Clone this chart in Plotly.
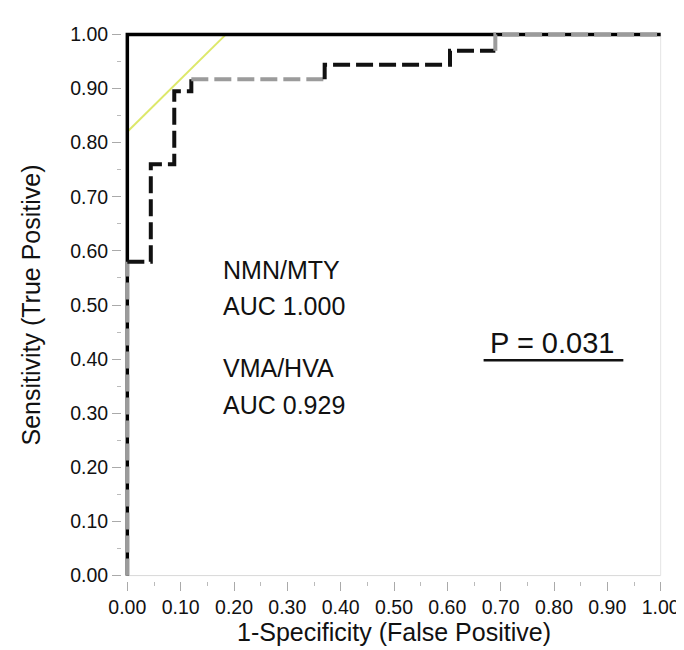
import plotly.graph_objects as go

# ---- data ----
nmn_fpr = [0.0, 0.0, 1.0]
nmn_tpr = [0.0, 1.0, 1.0]

vma_fpr = [0.0, 0.0, 0.044, 0.044, 0.088, 0.088, 0.12, 0.12, 0.37, 0.37, 0.605, 0.605, 0.69, 0.69, 1.0]
vma_tpr = [0.0, 0.58, 0.58, 0.76, 0.76, 0.895, 0.895, 0.917, 0.917, 0.944, 0.944, 0.97, 0.97, 1.0, 1.0]
# colour of each segment between consecutive points ("g" grey, "k" black)
vma_seg_colors = ["g", "k", "k", "k", "k", "k", "k", "g", "k", "k", "k", "k", "g", "g"]

tangent_x = [0.0, 0.185]
tangent_y = [0.82, 1.0]

tick_vals = [i / 10 for i in range(11)]
tick_text = ["%.2f" % v for v in tick_vals]

text_lines = ["NMN/MTY", "AUC 1.000", "VMA/HVA", "AUC 0.929"]
text_line_y = [0.565, 0.498, 0.383, 0.316]
p_label = "P = 0.031"

COLORS = {"g": "#9b9b9b", "k": "#111111"}
FONT = "Liberation Sans, Arial, sans-serif"

fig = go.Figure()

# yellow tangent line (behind)
fig.add_trace(go.Scatter(x=tangent_x, y=tangent_y, mode="lines",
                         line=dict(color="#dde86a", width=2), showlegend=False, hoverinfo="skip"))

# NMN/MTY solid curve
fig.add_trace(go.Scatter(x=nmn_fpr, y=nmn_tpr, mode="lines",
                         line=dict(color="#000000", width=3.5), showlegend=False))

# VMA/HVA dashed curve, grouped into runs of equal colour
runs = []
start = 0
for i in range(1, len(vma_seg_colors) + 1):
    if i == len(vma_seg_colors) or vma_seg_colors[i] != vma_seg_colors[start]:
        runs.append((start, i, vma_seg_colors[start]))
        start = i
for a, b, c in runs:
    fig.add_trace(go.Scatter(x=vma_fpr[a:b + 1], y=vma_tpr[a:b + 1], mode="lines",
                             line=dict(color=COLORS[c], width=4, dash="17px,6px"),
                             showlegend=False))

# faint frame lines at y=0 and x=1
fig.add_shape(type="line", x0=0, x1=1, y0=0, y1=0, xref="x", yref="y",
              line=dict(color="#d8d8d8", width=1), layer="below")
fig.add_shape(type="line", x0=1, x1=1, y0=0, y1=1, xref="x", yref="y",
              line=dict(color="#e4e4e4", width=1), layer="below")

for t, yy in zip(text_lines, text_line_y):
    fig.add_annotation(x=0.175, y=yy, xref="x", yref="y", text=t, showarrow=False,
                       xanchor="left", yanchor="middle", align="left",
                       font=dict(family=FONT, size=25, color="#111"))
fig.add_annotation(x=0.797, y=0.43, xref="x", yref="y", text=p_label, showarrow=False,
                   xanchor="center", yanchor="middle",
                   font=dict(family=FONT, size=29, color="#111"))
fig.add_shape(type="line", x0=0.668, x1=0.93, y0=0.398, y1=0.398, xref="x", yref="y",
              line=dict(color="#111", width=2.5))

axis_common = dict(
    tickvals=tick_vals, ticktext=tick_text, ticks="outside", ticklen=9, tickwidth=1,
    tickcolor="#aaaaaa", showgrid=False, zeroline=False, showline=False,
    ticklabeloverflow="allow",
    tickfont=dict(family=FONT, size=19.5, color="#111"),
    minor=dict(dtick=0.05, tick0=0, ticks="outside", ticklen=4, tickcolor="#bbbbbb", showgrid=False),
)

fig.update_layout(
    width=684, height=650,
    margin=dict(l=113.6, r=16.5, t=20.6, b=76.6),
    plot_bgcolor="white", paper_bgcolor="white",
    xaxis=dict(range=[-0.01, 1.01],
               title=dict(text="1-Specificity (False Positive)", standoff=3,
                          font=dict(family=FONT, size=25, color="#111")),
               **axis_common),
    yaxis=dict(range=[-0.01, 1.01],
               title=dict(text="Sensitivity (True Positive)", standoff=22,
                          font=dict(family=FONT, size=25, color="#111")),
               **axis_common),
)

fig.write_html("out.html")
